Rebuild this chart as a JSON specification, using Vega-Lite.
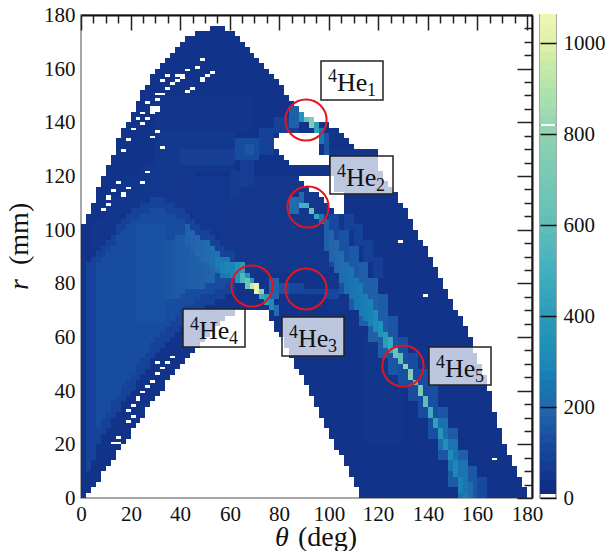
{"$schema":"https://vega.github.io/schema/vega-lite/v6.json","background":"white","bounds":"flush","padding":{"left":5,"top":3,"right":5,"bottom":0},"spacing":8,"config":{"view":{"stroke":"#8a8a8a","strokeWidth":1.5},"font":"Liberation Serif"},
"datasets":{
"cells":[
{"t":0,"u":2,"a":0,"b":102,"n":42},{"t":2,"u":4,"a":2,"b":106,"n":42},{"t":4,"u":6,"a":4,"b":110,"n":42},{"t":6,"u":8,"a":6,"b":116,"n":42},{"t":8,"u":10,"a":10,"b":120,"n":42},{"t":10,"u":12,"a":12,"b":124,"n":42},{"t":12,"u":14,"a":14,"b":128,"n":42},{"t":14,"u":16,"a":18,"b":134,"n":42},{"t":16,"u":18,"a":20,"b":138,"n":42},{"t":18,"u":20,"a":22,"b":140,"n":42},{"t":20,"u":22,"a":26,"b":144,"n":42},{"t":22,"u":24,"a":28,"b":148,"n":42},{"t":24,"u":26,"a":30,"b":152,"n":42},{"t":26,"u":28,"a":34,"b":154,"n":42},{"t":28,"u":30,"a":36,"b":158,"n":42},{"t":30,"u":32,"a":38,"b":160,"n":42},{"t":32,"u":34,"a":40,"b":162,"n":42},{"t":34,"u":36,"a":44,"b":164,"n":42},{"t":36,"u":38,"a":46,"b":166,"n":42},{"t":38,"u":40,"a":48,"b":168,"n":42},{"t":40,"u":42,"a":50,"b":170,"n":42},{"t":42,"u":44,"a":52,"b":172,"n":42},{"t":44,"u":46,"a":54,"b":172,"n":42},{"t":46,"u":48,"a":56,"b":174,"n":42},{"t":48,"u":50,"a":58,"b":174,"n":42},{"t":50,"u":52,"a":60,"b":174,"n":42},{"t":52,"u":54,"a":62,"b":176,"n":42},{"t":54,"u":56,"a":64,"b":176,"n":42},{"t":56,"u":58,"a":66,"b":176,"n":42},{"t":58,"u":60,"a":68,"b":174,"n":42},{"t":60,"u":62,"a":68,"b":174,"n":42},{"t":62,"u":64,"a":70,"b":172,"n":42},{"t":64,"u":66,"a":70,"b":170,"n":42},{"t":66,"u":68,"a":70,"b":168,"n":42},{"t":68,"u":70,"a":70,"b":166,"n":42},{"t":70,"u":72,"a":70,"b":164,"n":42},{"t":72,"u":74,"a":70,"b":162,"n":42},{"t":74,"u":76,"a":70,"b":160,"n":42},{"t":76,"u":78,"a":66,"b":158,"n":42},{"t":78,"u":80,"a":62,"b":156,"n":42},{"t":80,"u":82,"a":60,"b":154,"n":42},{"t":82,"u":84,"a":56,"b":150,"n":42},{"t":84,"u":86,"a":52,"b":148,"n":42},{"t":86,"u":88,"a":48,"b":146,"n":42},{"t":88,"u":90,"a":46,"b":144,"n":42},{"t":90,"u":92,"a":42,"b":142,"n":42},{"t":92,"u":94,"a":38,"b":142,"n":42},{"t":94,"u":96,"a":34,"b":140,"n":42},{"t":96,"u":98,"a":30,"b":140,"n":42},{"t":98,"u":100,"a":26,"b":140,"n":42},{"t":100,"u":102,"a":22,"b":138,"n":42},{"t":102,"u":104,"a":18,"b":138,"n":42},{"t":104,"u":106,"a":16,"b":136,"n":42},{"t":106,"u":108,"a":12,"b":134,"n":42},{"t":108,"u":110,"a":8,"b":132,"n":42},{"t":110,"u":112,"a":4,"b":130,"n":42},{"t":112,"u":114,"a":0,"b":128,"n":42},{"t":114,"u":116,"a":0,"b":128,"n":42},{"t":116,"u":118,"a":0,"b":126,"n":42},{"t":118,"u":120,"a":0,"b":124,"n":42},{"t":120,"u":122,"a":0,"b":122,"n":42},{"t":122,"u":124,"a":0,"b":118,"n":42},{"t":124,"u":126,"a":0,"b":116,"n":42},{"t":126,"u":128,"a":0,"b":114,"n":42},{"t":128,"u":130,"a":0,"b":110,"n":42},{"t":130,"u":132,"a":0,"b":108,"n":42},{"t":132,"u":134,"a":0,"b":104,"n":42},{"t":134,"u":136,"a":0,"b":100,"n":42},{"t":136,"u":138,"a":0,"b":96,"n":42},{"t":138,"u":140,"a":0,"b":94,"n":42},{"t":140,"u":142,"a":0,"b":90,"n":42},{"t":142,"u":144,"a":0,"b":86,"n":42},{"t":144,"u":146,"a":0,"b":82,"n":42},{"t":146,"u":148,"a":0,"b":78,"n":42},{"t":148,"u":150,"a":0,"b":74,"n":42},{"t":150,"u":152,"a":0,"b":70,"n":42},{"t":152,"u":154,"a":0,"b":68,"n":42},{"t":154,"u":156,"a":0,"b":64,"n":42},{"t":156,"u":158,"a":0,"b":60,"n":42},{"t":158,"u":160,"a":0,"b":54,"n":42},{"t":160,"u":162,"a":0,"b":50,"n":42},{"t":162,"u":164,"a":0,"b":46,"n":42},{"t":164,"u":166,"a":0,"b":40,"n":42},{"t":166,"u":168,"a":0,"b":32,"n":42},{"t":168,"u":170,"a":0,"b":26,"n":42},{"t":170,"u":172,"a":0,"b":20,"n":42},{"t":172,"u":174,"a":0,"b":16,"n":42},{"t":174,"u":176,"a":0,"b":12,"n":42},{"t":176,"u":178,"a":0,"b":8,"n":42},{"t":178,"u":180,"a":0,"b":4,"n":42},
{"t":30,"u":70,"a":136,"b":150,"n":48},{"t":4,"u":10,"a":92,"b":104,"n":50},{"t":10,"u":16,"a":98,"b":112,"n":50},{"t":16,"u":24,"a":106,"b":120,"n":50},{"t":24,"u":36,"a":110,"b":124,"n":54},{"t":36,"u":46,"a":106,"b":122,"n":56},{"t":46,"u":56,"a":98,"b":120,"n":54},{"t":56,"u":100,"a":84,"b":120,"n":52},{"t":100,"u":110,"a":70,"b":106,"n":50},{"t":30,"u":62,"a":122,"b":136,"n":60},{"t":40,"u":62,"a":124,"b":130,"n":76},{"t":60,"u":64,"a":112,"b":122,"n":68},{"t":64,"u":70,"a":116,"b":126,"n":74},{"t":62,"u":72,"a":126,"b":134,"n":120},{"t":66,"u":70,"a":128,"b":132,"n":155},{"t":72,"u":78,"a":128,"b":138,"n":88},{"t":78,"u":88,"a":136,"b":142,"n":88},{"t":114,"u":130,"a":20,"b":60,"n":48},{"t":100,"u":120,"a":114,"b":130,"n":50},
{"t":2,"u":4,"a":10,"b":88,"n":92},{"t":4,"u":6,"a":14,"b":90,"n":92},{"t":6,"u":8,"a":20,"b":92,"n":92},{"t":8,"u":10,"a":24,"b":94,"n":92},{"t":10,"u":12,"a":26,"b":96,"n":92},{"t":12,"u":14,"a":30,"b":98,"n":92},{"t":14,"u":16,"a":32,"b":102,"n":92},{"t":16,"u":18,"a":36,"b":104,"n":92},{"t":18,"u":20,"a":38,"b":106,"n":92},{"t":20,"u":22,"a":40,"b":108,"n":92},{"t":22,"u":24,"a":44,"b":108,"n":92},{"t":24,"u":26,"a":46,"b":110,"n":92},{"t":26,"u":28,"a":48,"b":110,"n":92},{"t":28,"u":30,"a":52,"b":112,"n":92},{"t":30,"u":32,"a":54,"b":112,"n":92},{"t":32,"u":34,"a":56,"b":112,"n":92},{"t":34,"u":36,"a":58,"b":110,"n":92},{"t":36,"u":38,"a":60,"b":110,"n":92},{"t":38,"u":40,"a":62,"b":108,"n":92},{"t":40,"u":42,"a":64,"b":108,"n":92},{"t":42,"u":44,"a":66,"b":106,"n":92},{"t":44,"u":46,"a":66,"b":104,"n":92},{"t":46,"u":48,"a":68,"b":102,"n":92},{"t":48,"u":50,"a":70,"b":100,"n":92},{"t":50,"u":52,"a":72,"b":100,"n":92},{"t":52,"u":54,"a":72,"b":98,"n":92},{"t":54,"u":56,"a":74,"b":96,"n":92},{"t":56,"u":58,"a":74,"b":94,"n":92},{"t":58,"u":60,"a":76,"b":92,"n":92},{"t":60,"u":62,"a":76,"b":92,"n":92},
{"t":6,"u":8,"a":26,"b":88,"n":120},{"t":8,"u":10,"a":30,"b":90,"n":120},{"t":10,"u":12,"a":32,"b":92,"n":120},{"t":12,"u":14,"a":36,"b":94,"n":120},{"t":14,"u":16,"a":38,"b":98,"n":120},{"t":16,"u":18,"a":42,"b":100,"n":120},{"t":18,"u":20,"a":44,"b":102,"n":120},{"t":20,"u":22,"a":46,"b":104,"n":120},{"t":22,"u":24,"a":50,"b":104,"n":120},{"t":24,"u":26,"a":52,"b":106,"n":120},{"t":26,"u":28,"a":54,"b":106,"n":120},{"t":28,"u":30,"a":58,"b":108,"n":120},{"t":30,"u":32,"a":60,"b":108,"n":120},{"t":32,"u":34,"a":62,"b":108,"n":120},{"t":34,"u":36,"a":64,"b":106,"n":120},{"t":36,"u":38,"a":66,"b":106,"n":120},{"t":38,"u":40,"a":68,"b":104,"n":120},{"t":40,"u":42,"a":70,"b":104,"n":120},{"t":42,"u":44,"a":72,"b":102,"n":120},{"t":44,"u":46,"a":72,"b":100,"n":120},{"t":46,"u":48,"a":74,"b":98,"n":120},{"t":48,"u":50,"a":76,"b":96,"n":120},{"t":50,"u":52,"a":76,"b":96,"n":120},{"t":52,"u":54,"a":76,"b":94,"n":120},{"t":54,"u":56,"a":78,"b":92,"n":120},{"t":56,"u":58,"a":78,"b":90,"n":120},{"t":58,"u":60,"a":80,"b":88,"n":120},
{"t":22,"u":34,"a":66,"b":102,"n":138},{"t":34,"u":36,"a":74,"b":96,"n":150},{"t":36,"u":38,"a":74,"b":96,"n":155},{"t":38,"u":40,"a":74,"b":98,"n":160},{"t":40,"u":42,"a":76,"b":98,"n":165},{"t":42,"u":44,"a":78,"b":98,"n":170},{"t":44,"u":46,"a":78,"b":98,"n":175},{"t":46,"u":48,"a":78,"b":96,"n":180},{"t":48,"u":50,"a":78,"b":96,"n":185},{"t":50,"u":52,"a":80,"b":94,"n":190},{"t":52,"u":54,"a":80,"b":92,"n":195},
{"t":42,"u":44,"a":94,"b":102,"n":185},{"t":44,"u":46,"a":92,"b":100,"n":190},{"t":46,"u":48,"a":90,"b":98,"n":200},{"t":48,"u":50,"a":88,"b":96,"n":205},{"t":50,"u":52,"a":88,"b":96,"n":215},{"t":52,"u":54,"a":86,"b":94,"n":225},{"t":54,"u":56,"a":84,"b":92,"n":235},{"t":56,"u":58,"a":82,"b":90,"n":245},{"t":58,"u":60,"a":82,"b":90,"n":255},{"t":60,"u":62,"a":82,"b":88,"n":285},{"t":54,"u":56,"a":86,"b":90,"n":260},{"t":56,"u":58,"a":84,"b":88,"n":275},{"t":58,"u":60,"a":84,"b":88,"n":295},
{"t":76,"u":80,"a":74,"b":82,"n":190},{"t":80,"u":84,"a":76,"b":80,"n":140},{"t":84,"u":90,"a":76,"b":80,"n":105},{"t":90,"u":98,"a":76,"b":78,"n":95},{"t":98,"u":104,"a":74,"b":78,"n":105},
{"t":100,"u":104,"a":86,"b":106,"n":110},{"t":104,"u":108,"a":76,"b":100,"n":140},{"t":108,"u":112,"a":70,"b":94,"n":160},{"t":112,"u":116,"a":64,"b":88,"n":175},{"t":116,"u":120,"a":58,"b":82,"n":180},{"t":120,"u":124,"a":52,"b":76,"n":170},{"t":124,"u":128,"a":46,"b":68,"n":150},{"t":128,"u":132,"a":42,"b":60,"n":130},{"t":132,"u":136,"a":36,"b":54,"n":120},{"t":136,"u":140,"a":30,"b":48,"n":120},{"t":140,"u":144,"a":22,"b":42,"n":130},{"t":144,"u":148,"a":14,"b":34,"n":150},{"t":148,"u":152,"a":4,"b":26,"n":165},{"t":152,"u":156,"a":0,"b":18,"n":175},{"t":156,"u":160,"a":0,"b":12,"n":155},{"t":160,"u":164,"a":0,"b":8,"n":115},
{"t":106,"u":110,"a":100,"b":106,"n":88},{"t":110,"u":114,"a":94,"b":102,"n":88},{"t":114,"u":118,"a":88,"b":96,"n":84},{"t":118,"u":122,"a":82,"b":90,"n":76},
{"t":144,"u":148,"a":18,"b":30,"n":225},{"t":148,"u":152,"a":10,"b":22,"n":235},{"t":152,"u":156,"a":0,"b":14,"n":235},{"t":156,"u":158,"a":0,"b":6,"n":210},
{"t":98,"u":100,"a":92,"b":104,"n":175},{"t":100,"u":102,"a":88,"b":100,"n":195},{"t":102,"u":104,"a":84,"b":96,"n":205},{"t":104,"u":106,"a":80,"b":92,"n":215},{"t":106,"u":108,"a":76,"b":88,"n":225},{"t":108,"u":110,"a":74,"b":86,"n":235},{"t":110,"u":112,"a":70,"b":82,"n":245},{"t":112,"u":114,"a":68,"b":80,"n":255},{"t":114,"u":116,"a":66,"b":76,"n":265},{"t":116,"u":118,"a":64,"b":74,"n":280},{"t":118,"u":120,"a":62,"b":70,"n":310},{"t":120,"u":122,"a":60,"b":66,"n":350},{"t":122,"u":124,"a":56,"b":62,"n":400},{"t":124,"u":126,"a":54,"b":60,"n":460},{"t":126,"u":128,"a":52,"b":56,"n":650},{"t":128,"u":130,"a":50,"b":54,"n":600},{"t":130,"u":132,"a":48,"b":50,"n":800},{"t":132,"u":134,"a":44,"b":48,"n":750},{"t":134,"u":136,"a":42,"b":44,"n":600},{"t":136,"u":138,"a":38,"b":42,"n":700},{"t":138,"u":140,"a":34,"b":38,"n":600},{"t":140,"u":142,"a":30,"b":34,"n":480},{"t":142,"u":144,"a":26,"b":30,"n":420},{"t":144,"u":146,"a":22,"b":26,"n":370},{"t":146,"u":148,"a":18,"b":22,"n":340},{"t":148,"u":150,"a":14,"b":18,"n":310},{"t":150,"u":152,"a":8,"b":14,"n":295},{"t":152,"u":154,"a":2,"b":8,"n":280},{"t":154,"u":156,"a":0,"b":2,"n":260},
{"t":60,"u":72,"a":70,"b":76,"n":40},{"t":62,"u":64,"a":80,"b":88,"n":350},{"t":64,"u":66,"a":80,"b":84,"n":550},{"t":64,"u":66,"a":84,"b":88,"n":400},{"t":66,"u":68,"a":78,"b":82,"n":650},{"t":66,"u":68,"a":82,"b":84,"n":350},{"t":68,"u":70,"a":78,"b":80,"n":950},{"t":68,"u":70,"a":80,"b":82,"n":400},{"t":70,"u":72,"a":76,"b":80,"n":1030},{"t":72,"u":74,"a":76,"b":78,"n":800},{"t":72,"u":74,"a":74,"b":76,"n":450},{"t":74,"u":76,"a":72,"b":76,"n":400},{"t":76,"u":78,"a":70,"b":74,"n":300},{"t":78,"u":80,"a":68,"b":72,"n":220},
{"t":84,"u":88,"a":138,"b":146,"n":180},{"t":88,"u":90,"a":140,"b":144,"n":350},{"t":90,"u":92,"a":140,"b":142,"n":600},{"t":92,"u":94,"a":138,"b":142,"n":750},{"t":94,"u":96,"a":136,"b":140,"n":420},{"t":96,"u":98,"a":132,"b":138,"n":250},{"t":98,"u":100,"a":128,"b":136,"n":150},
{"t":84,"u":88,"a":106,"b":112,"n":220},{"t":88,"u":90,"a":110,"b":114,"n":200},{"t":88,"u":92,"a":108,"b":110,"n":500},{"t":92,"u":94,"a":106,"b":108,"n":650},{"t":94,"u":96,"a":104,"b":106,"n":450},{"t":96,"u":98,"a":102,"b":106,"n":250},
{"t":78,"u":80,"a":130,"b":134,"n":0},{"t":80,"u":82,"a":128,"b":136,"n":0},{"t":82,"u":84,"a":126,"b":136,"n":0},{"t":84,"u":94,"a":124,"b":136,"n":0},{"t":94,"u":96,"a":124,"b":136,"n":0},{"t":96,"u":100,"a":124,"b":128,"n":0},{"t":88,"u":90,"a":118,"b":120,"n":0},{"t":90,"u":92,"a":116,"b":120,"n":0},{"t":92,"u":96,"a":114,"b":120,"n":0},{"t":96,"u":98,"a":112,"b":120,"n":0},{"t":98,"u":100,"a":110,"b":120,"n":0},{"t":100,"u":102,"a":108,"b":120,"n":0},{"t":102,"u":106,"a":106,"b":114,"n":0},
{"t":48,"u":50,"a":163,"b":164,"n":0},{"t":46,"u":48,"a":160,"b":161,"n":0},{"t":42,"u":44,"a":159,"b":160,"n":0},{"t":38,"u":42,"a":157,"b":158,"n":0},{"t":40,"u":42,"a":156,"b":158,"n":0},{"t":48,"u":50,"a":155,"b":157,"n":0},{"t":50,"u":52,"a":157,"b":158,"n":0},{"t":52,"u":54,"a":158,"b":159,"n":0},{"t":38,"u":40,"a":155,"b":156,"n":0},{"t":32,"u":34,"a":155,"b":156,"n":0},{"t":34,"u":36,"a":157,"b":158,"n":0},{"t":36,"u":38,"a":154,"b":155,"n":0},{"t":34,"u":36,"a":152,"b":153,"n":0},{"t":44,"u":46,"a":152,"b":153,"n":0},{"t":42,"u":44,"a":151,"b":152,"n":0},{"t":32,"u":34,"a":150,"b":151,"n":0},{"t":30,"u":32,"a":150,"b":151,"n":0},{"t":30,"u":32,"a":148,"b":149,"n":0},{"t":26,"u":28,"a":147,"b":148,"n":0},{"t":28,"u":32,"a":144,"b":146,"n":0},{"t":28,"u":30,"a":143,"b":144,"n":0},{"t":24,"u":26,"a":143,"b":144,"n":0},{"t":26,"u":28,"a":141,"b":142,"n":0},{"t":22,"u":24,"a":141,"b":142,"n":0},{"t":24,"u":26,"a":139,"b":140,"n":0},{"t":20,"u":22,"a":137,"b":138,"n":0},{"t":30,"u":32,"a":136,"b":137,"n":0},{"t":28,"u":30,"a":134,"b":135,"n":0},{"t":18,"u":20,"a":133,"b":134,"n":0},{"t":32,"u":34,"a":130,"b":131,"n":0},{"t":16,"u":18,"a":129,"b":130,"n":0},{"t":26,"u":28,"a":121,"b":122,"n":0},{"t":24,"u":26,"a":117,"b":118,"n":0},{"t":14,"u":16,"a":117,"b":118,"n":0},{"t":18,"u":20,"a":115,"b":116,"n":0},{"t":12,"u":14,"a":114,"b":115,"n":0},{"t":16,"u":18,"a":112,"b":114,"n":0},{"t":10,"u":12,"a":111,"b":113,"n":0},{"t":10,"u":12,"a":109,"b":110,"n":0},{"t":8,"u":10,"a":107,"b":108,"n":0},
{"t":30,"u":32,"a":50,"b":51,"n":0},{"t":34,"u":36,"a":50,"b":51,"n":0},{"t":36,"u":38,"a":52,"b":53,"n":0},{"t":32,"u":34,"a":48,"b":49,"n":0},{"t":30,"u":32,"a":46,"b":47,"n":0},{"t":28,"u":30,"a":43,"b":44,"n":0},{"t":26,"u":28,"a":41,"b":42,"n":0},{"t":24,"u":26,"a":39,"b":40,"n":0},{"t":22,"u":24,"a":36,"b":38,"n":0},{"t":20,"u":22,"a":34,"b":35,"n":0},{"t":18,"u":20,"a":32,"b":33,"n":0},{"t":20,"u":22,"a":30,"b":31,"n":0},{"t":18,"u":20,"a":28,"b":29,"n":0},{"t":14,"u":16,"a":22,"b":23,"n":0},{"t":12,"u":16,"a":20,"b":21,"n":0},{"t":128,"u":130,"a":95,"b":96,"n":0},{"t":138,"u":140,"a":75,"b":76,"n":0},{"t":166,"u":168,"a":14,"b":15,"n":0}
],
"boxes":[{"t":96.8,"u":121.9,"a":148.5,"b":162.7,"h":"4","s":"1"},{"t":100.5,"u":125.9,"a":113.4,"b":127.6,"h":"4","s":"2"},{"t":81.1,"u":106.2,"a":53,"b":67.5,"h":"4","s":"3"},{"t":41.2,"u":66.2,"a":56.3,"b":70.5,"h":"4","s":"4"},{"t":140.4,"u":165.4,"a":42,"b":56.3,"h":"4","s":"5"}],
"rings":[{"t":90.8,"r":141},{"t":91.6,"r":108.6},{"t":90.8,"r":78},{"t":69,"r":79},{"t":130,"r":49.3}],
"levels":[{"a":8,"b":20,"n":14},{"a":20,"b":40,"n":30},{"a":40,"b":60,"n":50},{"a":60,"b":80,"n":70},{"a":80,"b":100,"n":90},{"a":100,"b":120,"n":110},{"a":120,"b":140,"n":130},{"a":140,"b":160,"n":150},{"a":160,"b":180,"n":170},{"a":180,"b":200,"n":190},{"a":200,"b":220,"n":210},{"a":220,"b":240,"n":230},{"a":240,"b":260,"n":250},{"a":260,"b":280,"n":270},{"a":280,"b":300,"n":290},{"a":300,"b":320,"n":310},{"a":320,"b":340,"n":330},{"a":340,"b":360,"n":350},{"a":360,"b":380,"n":370},{"a":380,"b":400,"n":390},{"a":400,"b":420,"n":410},{"a":420,"b":440,"n":430},{"a":440,"b":460,"n":450},{"a":460,"b":480,"n":470},{"a":480,"b":500,"n":490},{"a":500,"b":520,"n":510},{"a":520,"b":540,"n":530},{"a":540,"b":560,"n":550},{"a":560,"b":580,"n":570},{"a":580,"b":600,"n":590},{"a":600,"b":620,"n":610},{"a":620,"b":640,"n":630},{"a":640,"b":660,"n":650},{"a":660,"b":680,"n":670},{"a":680,"b":700,"n":690},{"a":700,"b":720,"n":710},{"a":720,"b":740,"n":730},{"a":740,"b":760,"n":750},{"a":760,"b":780,"n":770},{"a":780,"b":800,"n":790},{"a":800,"b":817,"n":810},{"a":821,"b":840,"n":830},{"a":840,"b":860,"n":850},{"a":860,"b":880,"n":870},{"a":880,"b":900,"n":890},{"a":900,"b":920,"n":910},{"a":920,"b":940,"n":930},{"a":940,"b":960,"n":950},{"a":960,"b":980,"n":970},{"a":980,"b":1000,"n":990},{"a":1000,"b":1020,"n":1010},{"a":1020,"b":1040,"n":1030},{"a":1040,"b":1064,"n":1052}]
},
"hconcat":[
{"width":451,"height":483,"resolve":{"axis":{"x":"independent","y":"independent"}},
"layer":[
{"data":{"name":"cells"},"mark":{"type":"rect","strokeWidth":0},"encoding":{
"x":{"field":"t","type":"quantitative","scale":{"domain":[0,182],"nice":false,"round":true},"axis":{"values":[0,20,40,60,80,100,120,140,160,180],"title":null,"grid":false,"ticks":false,"domain":false,"labelFont":"Liberation Serif","labelFontSize":21,"labelColor":"#111","labelPadding":5,"labelFlush":false,"labelOverlap":false}},
"x2":{"field":"u"},
"y":{"field":"a","type":"quantitative","scale":{"domain":[0,180],"nice":false,"round":true},"axis":{"values":[0,20,40,60,80,100,120,140,160,180],"title":null,"grid":false,"ticks":false,"domain":false,"labelFont":"Liberation Serif","labelFontSize":21,"labelColor":"#111","labelPadding":6,"labelFlush":false,"labelOverlap":false}},
"y2":{"field":"b"},
"color":{"field":"n","type":"quantitative","legend":null,"scale":{"domain":[0,7.9,8,100,200,300,400,500,600,800,1000,1064],"range":["#ffffff","#ffffff","#0e2a80","#17459b","#2566ac","#1f8ab8","#2b9bb8","#43b0bf","#62bdb8","#8fd2b2","#dff0a8","#eef7b0"]}}}},
{"data":{"name":"boxes"},"mark":{"type":"rect","fill":"#ffffff","fillOpacity":0.72,"stroke":"#222222","strokeWidth":1.5},"encoding":{
"x":{"field":"t","type":"quantitative","axis":{"values":[0,20,40,60,80,100,120,140,160,180],"title":null,"grid":false,"labels":false,"tickSize":-15,"tickColor":"#222","tickWidth":1.5,"domainColor":"#111","domainWidth":2,"zindex":2}},
"x2":{"field":"u"},
"y":{"field":"a","type":"quantitative","axis":{"values":[0,20,40,60,80,100,120,140,160,180],"title":null,"grid":false,"labels":false,"tickSize":-15,"tickColor":"#222","tickWidth":1.5,"domainColor":"#111","domainWidth":2,"zindex":2}},
"y2":{"field":"b"}}},
{"data":{"name":"rings"},"mark":{"type":"point","shape":"circle","filled":false,"stroke":"#e6141e","strokeWidth":2,"size":1700,"opacity":1},"encoding":{
"x":{"field":"t","type":"quantitative","axis":{"values":[5,10,15,25,30,35,45,50,55,65,70,75,85,90,95,105,110,115,125,130,135,145,150,155,165,170,175],"title":null,"grid":false,"labels":false,"domain":false,"tickSize":-8,"tickColor":"#222","tickWidth":1.5,"zindex":2}},
"y":{"field":"r","type":"quantitative","axis":{"values":[5,10,15,25,30,35,45,50,55,65,70,75,85,90,95,105,110,115,125,130,135,145,150,155,165,170,175],"title":null,"grid":false,"labels":false,"domain":false,"tickSize":-8,"tickColor":"#222","tickWidth":1.5,"zindex":2}}}},
{"data":{"name":"boxes"},"mark":{"type":"text","font":"Liberation Serif","fontSize":18,"color":"#111","align":"left","baseline":"alphabetic","dx":7,"dy":21},"encoding":{"x":{"field":"t","type":"quantitative","axis":null},"y":{"field":"b","type":"quantitative","axis":null},"text":{"field":"h"}}},
{"data":{"name":"boxes"},"mark":{"type":"text","font":"Liberation Serif","fontSize":26,"color":"#111","align":"left","baseline":"alphabetic","dx":16,"dy":30},"encoding":{"x":{"field":"t","type":"quantitative","axis":null},"y":{"field":"b","type":"quantitative","axis":null},"text":{"value":"He"}}},
{"data":{"name":"boxes"},"mark":{"type":"text","font":"Liberation Serif","fontSize":18,"color":"#111","align":"left","baseline":"alphabetic","dx":46,"dy":35},"encoding":{"x":{"field":"t","type":"quantitative","axis":null},"y":{"field":"b","type":"quantitative","axis":null},"text":{"field":"s"}}},
{"data":{"values":[{"t":78.3,"r":0,"w":"θ"}]},"mark":{"type":"text","font":"Liberation Serif","fontSize":28,"fontStyle":"italic","color":"#111","align":"left","baseline":"alphabetic","dy":48},"encoding":{"x":{"field":"t","type":"quantitative","axis":null},"y":{"field":"r","type":"quantitative","axis":null},"text":{"field":"w"}}},
{"data":{"values":[{"t":87.6,"r":0,"w":"(deg)"}]},"mark":{"type":"text","font":"Liberation Serif","fontSize":28,"color":"#111","align":"left","baseline":"alphabetic","dy":48},"encoding":{"x":{"field":"t","type":"quantitative","axis":null},"y":{"field":"r","type":"quantitative","axis":null},"text":{"field":"w"}}},
{"data":{"values":[{"t":0,"r":77.6,"w":"r"}]},"mark":{"type":"text","font":"Liberation Serif","fontSize":28,"fontStyle":"italic","color":"#111","align":"left","baseline":"alphabetic","angle":270,"dy":-53},"encoding":{"x":{"field":"t","type":"quantitative","axis":null},"y":{"field":"r","type":"quantitative","axis":null},"text":{"field":"w"}}},
{"data":{"values":[{"t":0,"r":87,"w":"(mm)"}]},"mark":{"type":"text","font":"Liberation Serif","fontSize":28,"color":"#111","align":"left","baseline":"alphabetic","angle":270,"dy":-53},"encoding":{"x":{"field":"t","type":"quantitative","axis":null},"y":{"field":"r","type":"quantitative","axis":null},"text":{"field":"w"}}}
]},
{"width":16,"height":483,"data":{"name":"levels"},"mark":{"type":"rect","strokeWidth":0},"encoding":{
"y":{"field":"a","type":"quantitative","scale":{"domain":[0,1061],"nice":false,"round":true},"axis":{"orient":"right","values":[0,200,400,600,800,1000],"format":"d","title":null,"grid":false,"domain":false,"tickSize":-16,"tickColor":"#111","tickWidth":1.5,"labelFont":"Liberation Serif","labelFontSize":21,"labelColor":"#111","labelPadding":23,"labelFlush":false,"labelOverlap":false,"zindex":1}},
"y2":{"field":"b"},
"color":{"field":"n","type":"quantitative","legend":null,"scale":{"domain":[0,7.9,8,100,200,300,400,500,600,800,1000,1064],"range":["#ffffff","#ffffff","#0e2a80","#17459b","#2566ac","#1f8ab8","#2b9bb8","#43b0bf","#62bdb8","#8fd2b2","#dff0a8","#eef7b0"]}}}}
]}
